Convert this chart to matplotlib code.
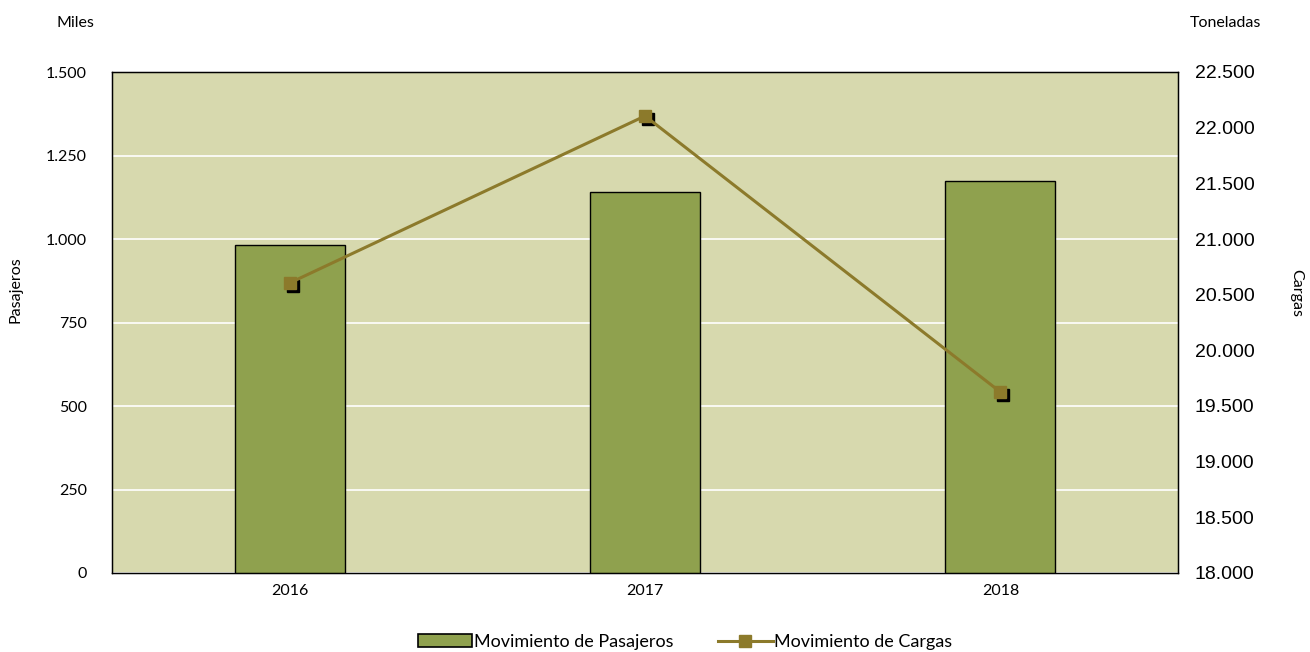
import numpy as np
import matplotlib.pyplot as plt
import matplotlib.transforms as mtransforms
from matplotlib.ticker import FuncFormatter
from matplotlib.lines import Line2D
from matplotlib.patches import Patch

# datos
anios = ["2016", "2017", "2018"]
pasajeros = [982, 1141, 1174]       # miles
cargas = [20605, 22105, 19626]      # toneladas

fondo = "#D7D9AE"
color_barra = "#8FA14E"
color_linea = "#8C7A2B"

def miles_fmt(v, pos):
    return f"{int(round(v)):,}".replace(",", ".")

fig = plt.figure(figsize=(13.1, 6.52), dpi=100)
ax = fig.add_axes([112 / 1310, 1 - 573 / 652, 1066 / 1310, 501 / 652])
ax.set_facecolor(fondo)

x = np.arange(len(anios))
ax.bar(x, pasajeros, width=0.31, color=color_barra, edgecolor="black", linewidth=1, zorder=3)
ax.set_xlim(-0.5, 2.5)
ax.set_ylim(0, 1500)
ax.set_yticks(np.arange(0, 1501, 250))
ax.yaxis.set_major_formatter(FuncFormatter(miles_fmt))
ax.set_xticks(x)
ax.set_xticklabels(anios)
ax.grid(axis="y", color="white", linewidth=1.2, zorder=1)
ax.tick_params(axis="both", length=0, labelsize=11.5, pad=8, labelfontfamily="Lato")
ax.tick_params(axis="y", pad=18)
for s in ax.spines.values():
    s.set_color("black")
    s.set_linewidth(1)

ax2 = ax.twinx()
ax2.set_ylim(18000, 22500)
ax2.set_yticks(np.arange(18000, 22501, 500))
ax2.yaxis.set_major_formatter(FuncFormatter(miles_fmt))
ax2.tick_params(axis="y", length=0, labelsize=14, pad=12, labelfontfamily="Liberation Sans")

# sombra de los marcadores
sombra = mtransforms.offset_copy(ax2.transData, fig=fig, x=3, y=-3, units="dots")
ax2.plot(x, cargas, linestyle="none", marker="s", markersize=9, color="black",
         transform=sombra, zorder=4)
ax2.plot(x, cargas, color=color_linea, linewidth=2.2, marker="s", markersize=9,
         markerfacecolor=color_linea, markeredgecolor=color_linea, zorder=5)

fig.text(15 / 1310, 1 - 290 / 652, "Pasajeros", rotation=90, ha="center", va="center",
         fontsize=11.5, family="Lato")
fig.text(1296 / 1310, 1 - 293 / 652, "Cargas", rotation=-90, ha="center", va="center",
         fontsize=11.5, family="Lato")
fig.text(75 / 1310, 1 - 23 / 652, "Miles", ha="center", va="center", fontsize=11.5, family="Lato")
fig.text(1225 / 1310, 1 - 23 / 652, "Toneladas", ha="center", va="center", fontsize=11.5, family="Lato")

handles = [
    Patch(facecolor=color_barra, edgecolor="black", linewidth=1.2),
    Line2D([0], [0], color=color_linea, linewidth=2.2, marker="s", markersize=8),
]
fig.legend(handles, ["Movimiento de Pasajeros", "Movimiento de Cargas"],
           loc="center", bbox_to_anchor=(0.523, 1 - 642 / 652), ncol=2, frameon=False,
           prop={"family": "Lato", "size": 13}, handlelength=3, handletextpad=0.1,
           columnspacing=2.5)

fig.savefig("out.png", dpi=100)
